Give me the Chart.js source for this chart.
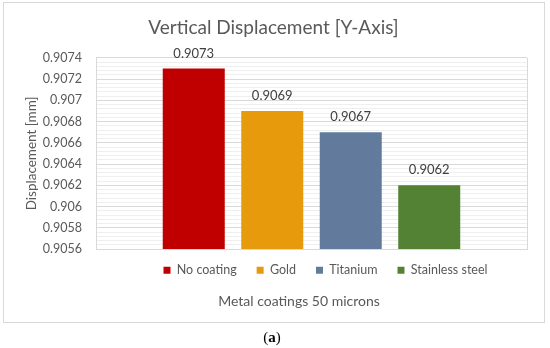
<!DOCTYPE html>
<html>
<head>
<meta charset="utf-8">
<script src="https://cdn.jsdelivr.net/npm/chart.js@4/dist/chart.umd.min.js"></script>
<style>
  html, body { margin: 0; padding: 0; background: #ffffff; }
  #wrap { position: relative; width: 550px; height: 348px; }
  #frame { position: absolute; left: 3px; top: 2px; width: 542px; height: 321px; box-sizing: border-box; border: 1px solid #d9d9d9; pointer-events: none; }
  #cap { position: absolute; left: 0; width: 544px; top: 329px; text-align: center; font-family: "Liberation Serif", serif; font-size: 15px; color: #000; }
  canvas { position: absolute; left: 0; top: 0; }
</style>
</head>
<body>
<div id="wrap">
  <canvas id="c" width="550" height="348"></canvas>
  <div id="frame"></div>
  <div id="cap">(<b>a</b>)</div>
</div>
<script>
const chartTitle = 'Vertical Displacement [Y-Axis]';
const yAxisTitle = 'Displacement [mm]';
const xAxisTitle = 'Metal coatings 50 microns';
const categories = [''];
const seriesNames = ['No coating', 'Gold', 'Titanium', 'Stainless steel'];
const seriesValues = [0.9073, 0.9069, 0.9067, 0.9062];
const seriesColors = ['#c00000', '#e69a0c', '#627b9d', '#548235'];
const yTickLabels = ['0.9056', '0.9058', '0.906', '0.9062', '0.9064', '0.9066', '0.9068', '0.907', '0.9072', '0.9074'];
const yMin = 0.9056, yMax = 0.9074, majorStep = 0.0002, minorPerMajor = 5;

const FONT = 'Lato, "Noto Sans", sans-serif';

const dataLabels = {
  id: 'dataLabels',
  afterDatasetsDraw(chart) {
    const ctx = chart.ctx;
    ctx.save();
    ctx.font = '13px ' + FONT;
    ctx.fillStyle = '#404040';
    ctx.textAlign = 'center';
    ctx.textBaseline = 'middle';
    chart.data.datasets.forEach((ds, i) => {
      const meta = chart.getDatasetMeta(i);
      meta.data.forEach((el, j) => {
        ctx.fillText(String(ds.data[j]), el.x, el.y - 15);
      });
    });
    ctx.restore();
  }
};

// small nudges of the bottom boxes to match the Excel-style placement
const boxNudge = {
  id: 'boxNudge',
  afterLayout(chart) {
    const lg = chart.legend;
    if (lg) { lg.left += 14; lg.right += 14; lg.top -= 5; lg.bottom -= 5; }
    const st = chart.boxes.find(b => b.options && b.options.text === xAxisTitle);
    if (st) { st.left -= 12.5; st.right -= 12.5; }
  }
};

new Chart(document.getElementById('c'), {
  type: 'bar',
  data: {
    labels: categories,
    datasets: seriesNames.map((n, i) => ({
      label: n,
      data: [seriesValues[i]],
      backgroundColor: seriesColors[i],
      borderWidth: 0,
      categoryPercentage: 0.7285,
      barPercentage: 0.79
    }))
  },
  options: {
    responsive: false,
    animation: false,
    devicePixelRatio: 1,
    layout: { padding: { left: 20, right: 23, top: 0, bottom: 0 } },
    plugins: {
      tooltip: { enabled: false },
      title: {
        display: true, text: chartTitle, fullSize: true,
        color: '#595959', font: { family: FONT, size: 19, weight: 'normal' },
        padding: { top: 16, bottom: 19 }
      },
      subtitle: {
        display: true, text: xAxisTitle, position: 'bottom', fullSize: false,
        color: '#595959', font: { family: FONT, size: 14, weight: 'normal' },
        padding: { top: 2, bottom: 37.7 }
      },
      legend: {
        position: 'bottom', fullSize: false,
        labels: {
          color: '#595959', font: { family: FONT, size: 12.5 },
          boxWidth: 7, boxHeight: 7, padding: 20
        }
      }
    },
    scales: {
      x: {
        ticks: { display: false },
        grid: { display: true, color: '#d9d9d9', drawTicks: false },
        border: { display: true, color: '#d9d9d9' }
      },
      y: {
        min: yMin, max: yMax,
        afterBuildTicks(scale) {
          const t = [];
          const n = (yTickLabels.length - 1) * minorPerMajor;
          for (let k = 0; k <= n; k++) t.push({ value: yMin + k * (majorStep / minorPerMajor) });
          scale.ticks = t;
        },
        afterFit(scale) { scale.width = 76; },
        ticks: {
          autoSkip: false, padding: 14,
          color: '#595959', font: { family: FONT, size: 12.5 },
          callback(v, idx) { return idx % minorPerMajor === 0 ? yTickLabels[idx / minorPerMajor] : ''; }
        },
        grid: {
          drawTicks: false,
          color: (c) => (c.index % minorPerMajor === 0 ? '#d9d9d9' : '#efefef')
        },
        border: { display: true, color: '#d9d9d9' },
        title: {
          display: true, text: yAxisTitle, color: '#595959',
          font: { family: FONT, size: 13.5 }, padding: { top: 4, bottom: 0 }
        }
      }
    }
  },
  plugins: [dataLabels, boxNudge]
});
</script>
</body>
</html>
